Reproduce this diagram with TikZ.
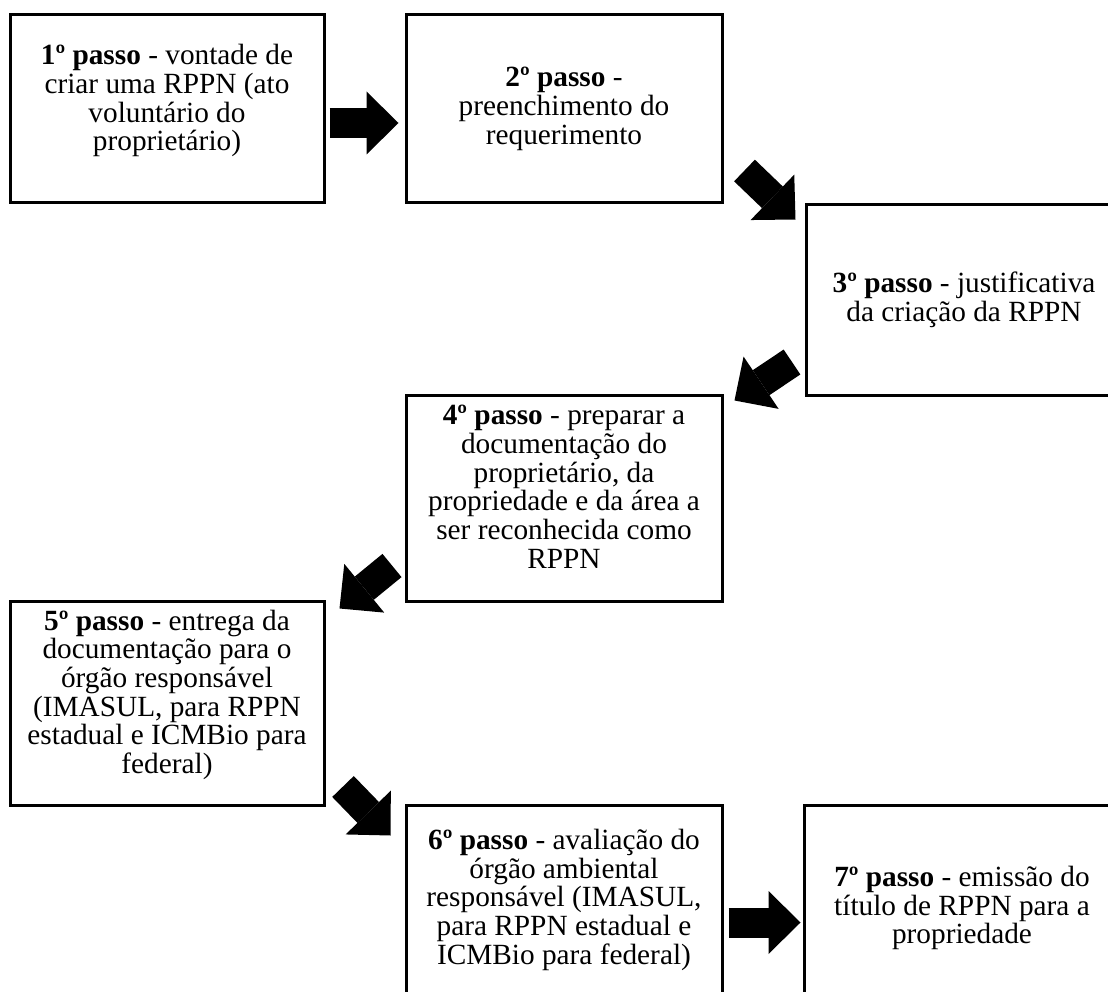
\documentclass[tikz,border=0pt]{standalone}
\usepackage{fontspec}
\setmainfont{Liberation Serif}
\usetikzlibrary{arrows.meta}

\tikzset{
  passo/.style={draw, line width=3pt, inner sep=0pt, minimum width=316pt, align=center, font=\fontsize{29.3}{28.7}\selectfont},
  seta/.style={line width=30pt, -{Triangle[length=32pt, width=63pt, line width=0pt]}}
}

\begin{document}
\begin{tikzpicture}[x=1pt, y=-1pt]
\useasboundingbox (0,0) rectangle (1108,992);
\clip (0,0) rectangle (1108,992);
\node[passo, minimum width=314pt, minimum height=188pt] (p1) at (167,109) {\textbf{1º passo} - vontade de\\ criar uma RPPN (ato\\ voluntário do\\ proprietário)\\[-6pt]~};
\node[passo, minimum height=188pt] (p2) at (564,109) {\textbf{2º passo} -\\ preenchimento do\\ requerimento};
\node[passo, minimum height=190pt] (p3) at (964,300) {\textbf{3º passo} - justificativa\\ da criação da RPPN};
\node[passo, minimum height=206pt] (p4) at (564,498) {\textbf{4º passo} - preparar a\\ documentação do\\ proprietário, da\\ propriedade e da área a\\ ser reconhecida como\\ RPPN\\[-6pt]~};
\node[passo, minimum width=314pt, minimum height=204pt] (p5) at (167,703) {\textbf{5º passo} - entrega da\\ documentação para o\\ órgão responsável\\ (IMASUL, para RPPN\\ estadual e ICMBio para\\ federal)\\[-6pt]~};
\node[passo, minimum height=206pt] (p6) at (564,908) {\textbf{6º passo} - avaliação do\\ órgão ambiental\\ responsável (IMASUL,\\ para RPPN estadual e\\ ICMBio para federal)\\[-6pt]~};
\node[passo, minimum height=206pt] (p7) at (962,908) {\textbf{7º passo} - emissão do\\ título de RPPN para a\\ propriedade};
\draw[seta] ([shift={(4,14)}]p1.east) -- ([shift={(-6,14)}]p2.west);
\draw[seta] ([shift={(21,-34)}]p2.south east) -- ([shift={(-9,16)}]p3.north west);
\draw[seta] ([shift={(-12.5,-34.5)}]p3.south west) -- ([shift={(11,7)}]p4.north east);
\draw[seta] ([shift={(-12.5,-37)}]p4.south west) -- ([shift={(14,9)}]p5.north east);
\draw[seta] ([shift={(17.5,-20)}]p5.south east) -- ([shift={(-14,32)}]p6.north west);
\draw[seta] ([shift={(5,14.5)}]p6.east) -- ([shift={(-2,14.5)}]p7.west);
\end{tikzpicture}
\end{document}
